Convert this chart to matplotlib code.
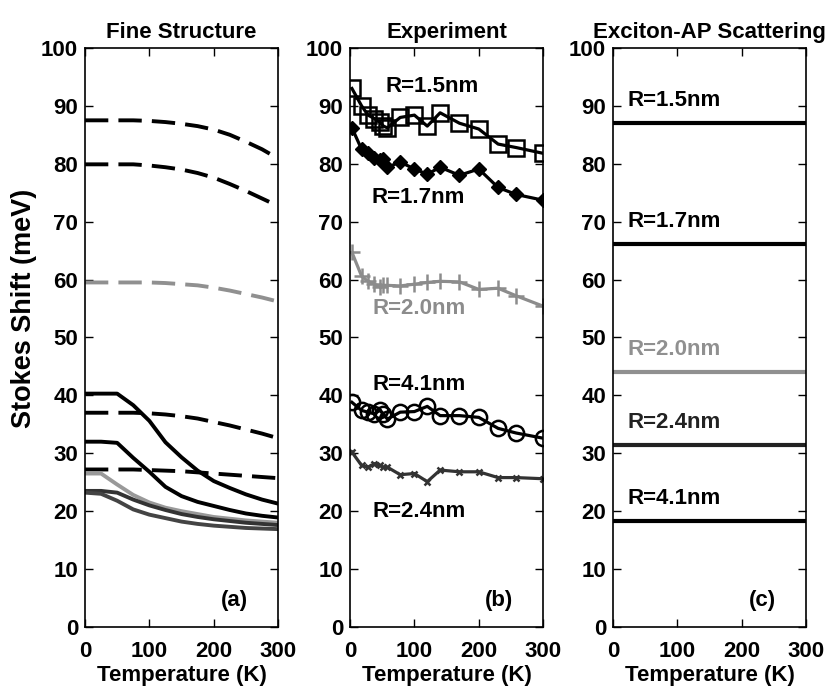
import numpy as np
import matplotlib
matplotlib.use("Agg")
import matplotlib.pyplot as plt

plt.rcParams['font.family'] = ['Liberation Sans', 'DejaVu Sans']
plt.rcParams['font.weight'] = 'bold'

# (a) fine structure calculations
t_fs = [0, 25, 50, 75, 100, 125, 150, 175, 200, 225, 250, 275, 300]
fs_dash1 = [87.5, 87.5, 87.5, 87.5, 87.4, 87.2, 86.9, 86.5, 85.9, 85.0, 83.8, 82.5, 80.9]
fs_dash2 = [79.9, 79.9, 79.9, 79.9, 79.7, 79.4, 79.0, 78.4, 77.6, 76.5, 75.3, 74.0, 72.7]
fs_dash3 = [59.5, 59.5, 59.5, 59.5, 59.5, 59.4, 59.2, 59.0, 58.6, 58.1, 57.5, 56.9, 56.2]
fs_dash4 = [37.0, 37.0, 37.0, 37.0, 36.9, 36.7, 36.4, 36.0, 35.4, 34.8, 34.1, 33.4, 32.6]
fs_dash5 = [27.2, 27.2, 27.2, 27.2, 27.1, 27.0, 26.9, 26.7, 26.5, 26.3, 26.1, 25.9, 25.7]
fs_sol1 = [40.3, 40.3, 40.3, 38.3, 35.6, 31.9, 29.3, 27.0, 25.2, 24.0, 22.9, 22.0, 21.3]
fs_sol2 = [32.0, 32.0, 31.8, 29.2, 26.8, 24.2, 22.6, 21.6, 20.9, 20.2, 19.6, 19.2, 18.9]
fs_sol3 = [26.5, 26.5, 24.6, 22.8, 21.5, 20.6, 20.0, 19.5, 19.0, 18.7, 18.4, 18.2, 18.0]
fs_sol4 = [23.5, 23.5, 23.2, 22.0, 21.0, 20.2, 19.5, 19.0, 18.6, 18.3, 18.0, 17.8, 17.6]
fs_sol5 = [23.2, 23.0, 21.8, 20.3, 19.4, 18.8, 18.2, 17.8, 17.5, 17.3, 17.1, 17.0, 16.9]

# (b) experiment
t_exp = [3, 18, 28, 38, 46, 52, 58, 78, 100, 120, 140, 170, 200, 230, 258, 300]
exp_15 = [93.0, 90.0, 88.4, 87.8, 87.2, 86.5, 86.2, 88.0, 88.4, 86.5, 88.8, 87.0, 86.0, 83.4, 82.8, 81.8]
exp_17 = [86.2, 82.5, 81.8, 81.0, 80.6, 80.9, 79.4, 80.3, 79.1, 78.2, 79.4, 78.0, 79.1, 75.9, 74.7, 73.7]
exp_20 = [64.7, 60.6, 59.7, 59.2, 58.8, 59.0, 59.0, 58.9, 59.2, 59.5, 59.7, 59.6, 58.3, 58.5, 57.2, 55.4]
exp_41 = [38.8, 37.4, 37.1, 36.8, 37.4, 36.8, 35.9, 37.1, 37.2, 38.1, 36.5, 36.5, 36.2, 34.3, 33.5, 32.6]
exp_24 = [30.2, 27.9, 27.6, 28.2, 27.9, 27.6, 27.6, 26.3, 26.5, 25.1, 27.1, 26.8, 26.8, 25.8, 25.8, 25.6]

# (c) exciton-AP scattering
radii = ['R=1.5nm', 'R=1.7nm', 'R=2.0nm', 'R=2.4nm', 'R=4.1nm']
ap_values = [87.0, 66.2, 44.0, 31.5, 18.3]
ap_colors = ['black', 'black', '#909090', '#222222', 'black']

fig = plt.figure(figsize=(8.29, 6.88), dpi=100)
w, h, bot = 0.233, 0.8416, 0.0887
ax_a = fig.add_axes([0.1025, bot, w, h])
ax_b = fig.add_axes([0.4222, bot, w, h])
ax_c = fig.add_axes([0.7394, bot, w, h])

dash = (0, (6, 2.6))
lw = 2.8
for y in [fs_dash1, fs_dash2, fs_dash4, fs_dash5]:
    ax_a.plot(t_fs, y, color='black', lw=lw, linestyle=dash)
ax_a.plot(t_fs, fs_dash3, color='#909090', lw=lw, linestyle=dash)
ax_a.plot(t_fs, fs_sol1, color='black', lw=lw)
ax_a.plot(t_fs, fs_sol2, color='black', lw=lw)
ax_a.plot(t_fs, fs_sol3, color='#999999', lw=lw)
ax_a.plot(t_fs, fs_sol4, color='#333333', lw=lw)
ax_a.plot(t_fs, fs_sol5, color='#444444', lw=lw)

ax_b.plot(t_exp, exp_15, color='black', lw=2.3, marker='s', ms=11, mfc='none', mew=1.8)
ax_b.plot(t_exp, exp_17, color='black', lw=2.3, marker='D', ms=7)
ax_b.plot(t_exp, exp_20, color='#8c8c8c', lw=2.3, marker='+', ms=11, mew=1.8)
ax_b.plot(t_exp, exp_41, color='black', lw=2.3, marker='o', ms=11, mfc='none', mew=1.8)
ax_b.plot(t_exp, exp_24, color='#333333', lw=2.3, marker='x', ms=5, mew=1.8)

lab_kw = dict(fontsize=16, fontweight='bold', ha='center', va='center')
ax_b.text(127, 93.3, 'R=1.5nm', color='black', **lab_kw)
ax_b.text(106, 74.2, 'R=1.7nm', color='black', **lab_kw)
ax_b.text(107, 55.0, 'R=2.0nm', color='#8c8c8c', **lab_kw)
ax_b.text(107, 41.8, 'R=4.1nm', color='black', **lab_kw)
ax_b.text(107, 20.0, 'R=2.4nm', color='black', **lab_kw)

for name, val, col in zip(radii, ap_values, ap_colors):
    ax_c.plot([0, 300], [val, val], color=col, lw=3)
    ax_c.text(95, val + 3.9, name, color=col, **lab_kw)

titles = ['Fine Structure', 'Experiment', 'Exciton-AP Scattering']
tags = ['(a)', '(b)', '(c)']
for ax, ttl, tag in zip([ax_a, ax_b, ax_c], titles, tags):
    ax.set_xlim(0, 300)
    ax.set_ylim(0, 100)
    ax.set_xticks([0, 100, 200, 300])
    ax.set_yticks(range(0, 101, 10))
    ax.tick_params(direction='in', top=True, right=True, length=6, width=1,
                   labelsize=16, pad=5)
    ax.tick_params(axis='x', pad=10)
    for lbl in ax.get_xticklabels() + ax.get_yticklabels():
        lbl.set_fontweight('bold')
    ax.set_xlabel('Temperature (K)', fontsize=16, fontweight='bold', labelpad=2)
    ax.set_title(ttl, fontsize=16, fontweight='bold', pad=7)
    ax.text(232, 4.5, tag, fontsize=16, fontweight='bold', ha='center', va='center')
    for s in ax.spines.values():
        s.set_linewidth(1.2)

ax_a.set_ylabel('Stokes Shift (meV)', fontsize=19.5, fontweight='bold')
ax_a.yaxis.set_label_coords(-0.25, 0.55)

fig.savefig('out.png', dpi=100)
